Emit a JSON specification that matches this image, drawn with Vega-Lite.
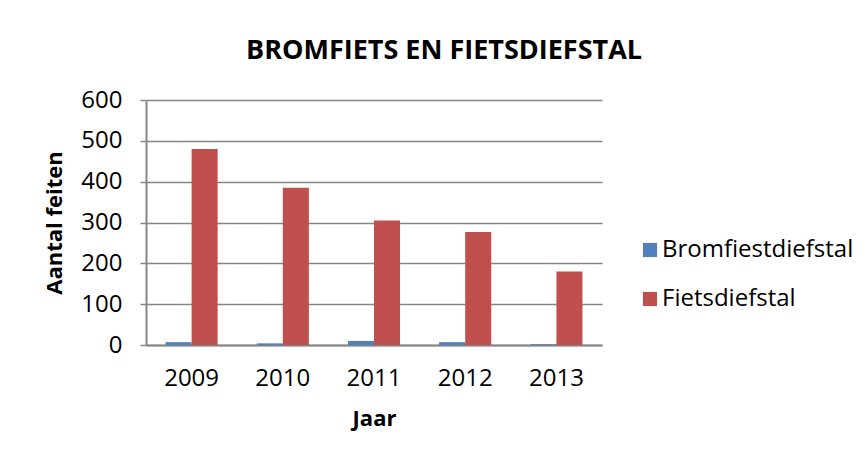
{
  "$schema": "https://vega.github.io/schema/vega-lite/v6.json",
  "width": 456,
  "height": 245,
  "autosize": "none",
  "padding": {"left": 146, "top": 100, "right": 264, "bottom": 118},
  "background": "white",
  "title": {
    "text": "BROMFIETS EN FIETSDIEFSTAL",
    "font": "Open Sans",
    "fontSize": 27,
    "fontWeight": "bold",
    "color": "#000000",
    "anchor": "middle",
    "dx": 70,
    "offset": 23
  },
  "data": {
    "values": [
      {"jaar": "2009", "soort": "Bromfiestdiefstal", "aantal": 7},
      {"jaar": "2009", "soort": "Fietsdiefstal", "aantal": 480},
      {"jaar": "2010", "soort": "Bromfiestdiefstal", "aantal": 4},
      {"jaar": "2010", "soort": "Fietsdiefstal", "aantal": 385},
      {"jaar": "2011", "soort": "Bromfiestdiefstal", "aantal": 10},
      {"jaar": "2011", "soort": "Fietsdiefstal", "aantal": 305},
      {"jaar": "2012", "soort": "Bromfiestdiefstal", "aantal": 7},
      {"jaar": "2012", "soort": "Fietsdiefstal", "aantal": 277},
      {"jaar": "2013", "soort": "Bromfiestdiefstal", "aantal": 2},
      {"jaar": "2013", "soort": "Fietsdiefstal", "aantal": 180}
    ]
  },
  "mark": {"type": "bar"},
  "encoding": {
    "x": {
      "field": "jaar",
      "type": "nominal",
      "scale": {"paddingInner": 0.4286, "paddingOuter": 0.2143},
      "axis": {
        "title": "Jaar",
        "titleFont": "Open Sans",
        "titleFontSize": 22,
        "titleFontWeight": "bold",
        "titleColor": "#000000",
        "titlePadding": 18,
        "labelFont": "Open Sans",
        "labelFontSize": 24,
        "labelColor": "#000000",
        "labelAngle": 0,
        "labelPadding": 21,
        "ticks": false,
        "domainColor": "#868686",
        "domainWidth": 2,
        "grid": false
      }
    },
    "xOffset": {"field": "soort", "type": "nominal", "sort": ["Bromfiestdiefstal", "Fietsdiefstal"]},
    "y": {
      "field": "aantal",
      "type": "quantitative",
      "scale": {"domain": [0, 600], "nice": false},
      "axis": {
        "values": [0, 100, 200, 300, 400, 500, 600],
        "title": "Aantal feiten",
        "titleFont": "Open Sans",
        "titleFontSize": 22,
        "titleFontWeight": "bold",
        "titleColor": "#000000",
        "titlePadding": 14,
        "labelFont": "Open Sans",
        "labelFontSize": 24,
        "labelColor": "#000000",
        "labelPadding": 18,
        "tickColor": "#868686",
        "tickSize": 6,
        "tickWidth": 1.5,
        "domainColor": "#868686",
        "domainWidth": 2,
        "grid": true,
        "gridColor": "#868686",
        "gridWidth": 1.5
      }
    },
    "color": {
      "field": "soort",
      "type": "nominal",
      "scale": {"domain": ["Bromfiestdiefstal", "Fietsdiefstal"], "range": ["#4F81BD", "#C0504D"]},
      "legend": {
        "title": null,
        "orient": "none",
        "legendX": 492,
        "legendY": 138,
        "symbolType": "square",
        "symbolSize": 200,
        "symbolStrokeWidth": 0,
        "labelFont": "Open Sans",
        "labelFontSize": 24,
        "labelColor": "#000000",
        "labelLimit": 400,
        "rowPadding": 25,
        "labelOffset": 0
      }
    }
  },
  "config": {"view": {"stroke": null}}
}
